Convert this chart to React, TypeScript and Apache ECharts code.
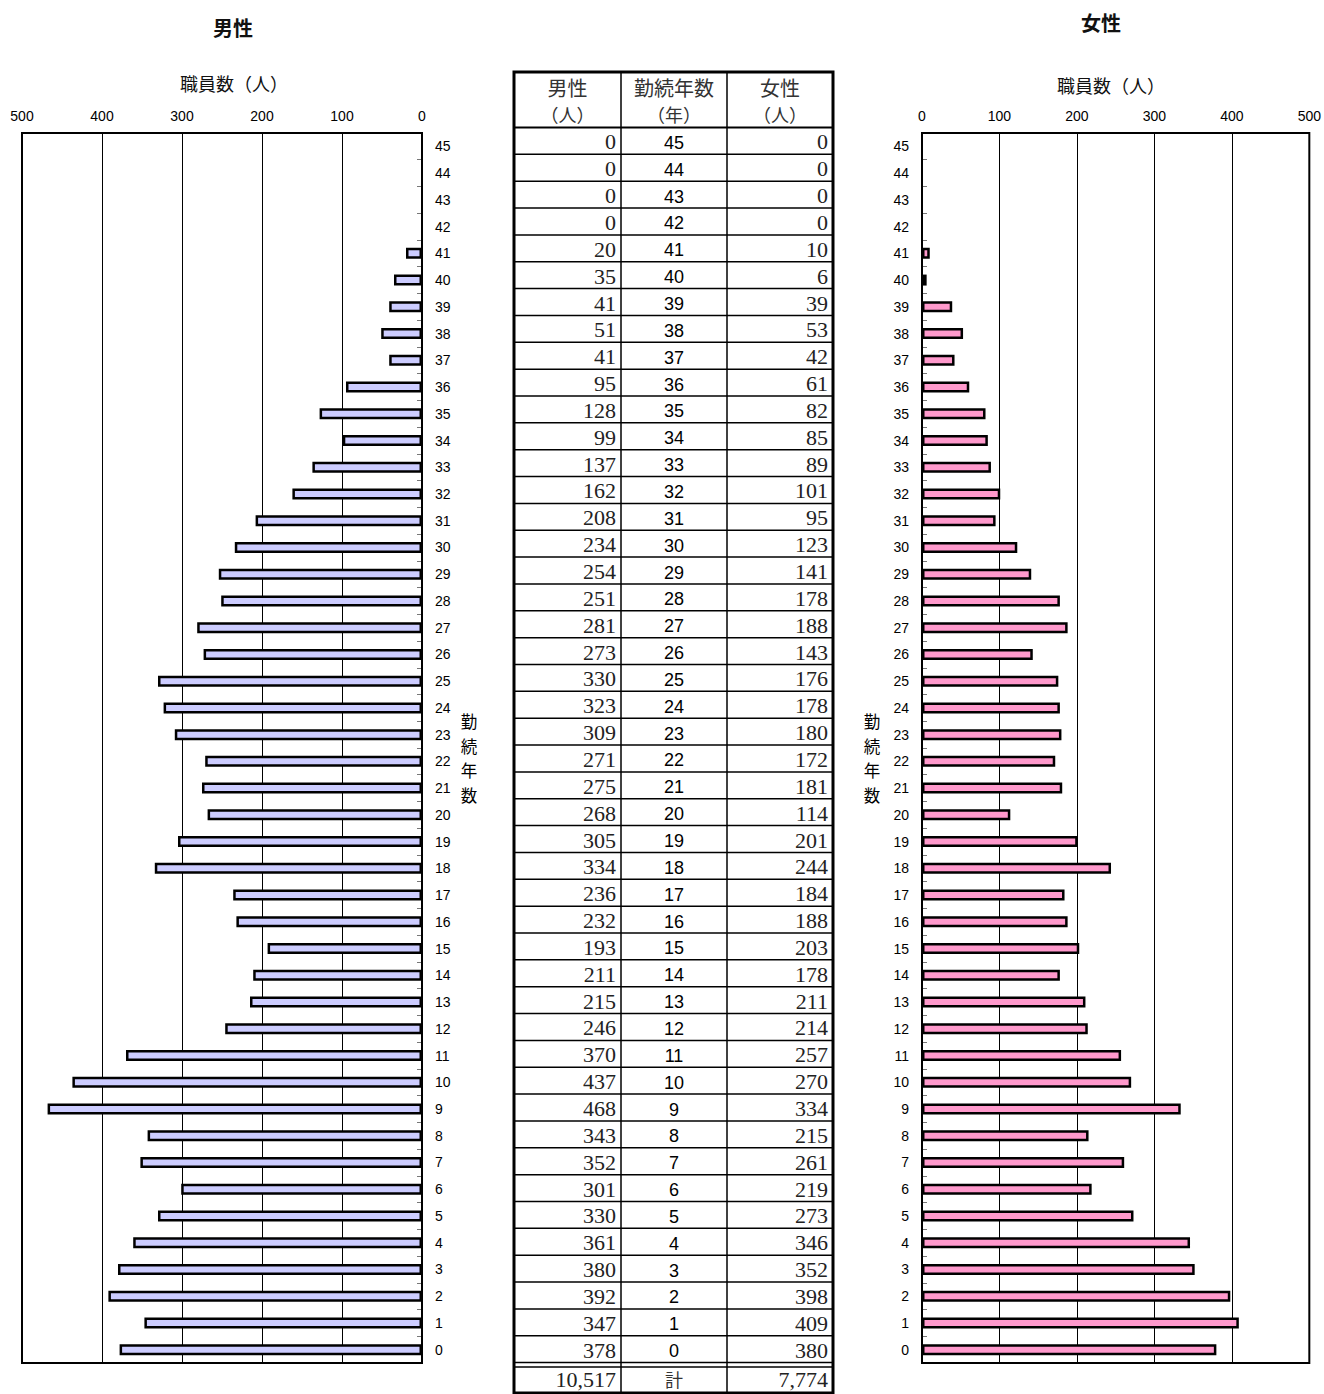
import React, { useEffect, useRef } from "react";
import * as echarts from "echarts";

// years of service, from 0 (bottom) to 45 (top)
const years: string[] = Array.from({ length: 46 }, (_, i) => String(i));

// male staff counts, index = years of service (0..45)
const maleCounts: number[] = [
  378, 347, 392, 380, 361, 330, 301, 352, 343, 468,
  437, 370, 246, 215, 211, 193, 232, 236, 334, 305,
  268, 275, 271, 309, 323, 330, 273, 281, 251, 254,
  234, 208, 162, 137, 99, 128, 95, 41, 51, 41,
  35, 20, 0, 0, 0, 0,
];

// female staff counts, index = years of service (0..45)
const femaleCounts: number[] = [
  380, 409, 398, 352, 346, 273, 219, 261, 215, 334,
  270, 257, 214, 211, 178, 203, 188, 184, 244, 201,
  114, 181, 172, 180, 178, 176, 143, 188, 178, 141,
  123, 95, 101, 89, 85, 82, 61, 42, 53, 39,
  6, 10, 0, 0, 0, 0,
];

const valueTicks = { min: 0, max: 500, interval: 100 };

const yearAxisName = ["勤", "続", "年", "数"];

const JP = '"Noto Sans CJK JP", sans-serif';
const SANS = '"Liberation Sans", Arial, sans-serif';
const SERIF = '"Liberation Serif", "DejaVu Serif", serif';

function fmt(n: number): string {
  return n.toString().replace(/\B(?=(\d{3})+(?!\d))/g, ",");
}

function buildTable(): any[] {
  const els: any[] = [];
  const L = 514, R = 833, T = 72, B = 1393;
  const c1 = 621, c2 = 727;
  const headBottom = 127.5;
  const rowH = 26.85;
  const n = years.length;
  const dataBottom = headBottom + n * rowH;
  els.push({ type: "rect", shape: { x: L, y: T, width: R - L, height: B - T }, style: { fill: "#fff", stroke: "#000", lineWidth: 3 }, z: 10 });
  [c1, c2].forEach((x) =>
    els.push({ type: "line", shape: { x1: x, y1: T, x2: x, y2: B }, style: { stroke: "#000", lineWidth: 1.5 }, z: 11 })
  );
  els.push({ type: "line", shape: { x1: L, y1: headBottom, x2: R, y2: headBottom }, style: { stroke: "#000", lineWidth: 2 }, z: 11 });
  for (let i = 1; i < n; i++) {
    const y = headBottom + i * rowH;
    els.push({ type: "line", shape: { x1: L, y1: y, x2: R, y2: y }, style: { stroke: "#000", lineWidth: 1.5 }, z: 11 });
  }
  els.push({ type: "line", shape: { x1: L, y1: dataBottom, x2: R, y2: dataBottom }, style: { stroke: "#000", lineWidth: 1.5 }, z: 11 });
  els.push({ type: "line", shape: { x1: L, y1: dataBottom + 4.5, x2: R, y2: dataBottom + 4.5 }, style: { stroke: "#000", lineWidth: 1.5 }, z: 11 });

  const heads = [
    { x: (L + c1) / 2, a: "男性", b: "（人）" },
    { x: (c1 + c2) / 2, a: "勤続年数", b: "（年）" },
    { x: (c2 + R) / 2, a: "女性", b: "（人）" },
  ];
  heads.forEach((h) => {
    els.push({ type: "text", x: h.x, y: 87, style: { text: h.a, font: `20px ${JP}`, fill: "#333", align: "center", verticalAlign: "middle" }, z: 12 });
    els.push({ type: "text", x: h.x, y: 114, style: { text: h.b, font: `18px ${JP}`, fill: "#333", align: "center", verticalAlign: "middle" }, z: 12 });
  });

  for (let i = 0; i < n; i++) {
    const yi = n - 1 - i;
    const cy = headBottom + (i + 0.5) * rowH + 1;
    els.push({ type: "text", x: c1 - 5, y: cy, style: { text: String(maleCounts[yi]), font: `22px ${SERIF}`, fill: "#222", align: "right", verticalAlign: "middle" }, z: 12 });
    els.push({ type: "text", x: (c1 + c2) / 2, y: cy + 1, style: { text: years[yi], font: `18px ${SANS}`, fill: "#000", align: "center", verticalAlign: "middle" }, z: 12 });
    els.push({ type: "text", x: R - 5, y: cy, style: { text: String(femaleCounts[yi]), font: `22px ${SERIF}`, fill: "#222", align: "right", verticalAlign: "middle" }, z: 12 });
  }
  const totalY = 1379;
  const maleTotal = maleCounts.reduce((s, v) => s + v, 0);
  const femaleTotal = femaleCounts.reduce((s, v) => s + v, 0);
  els.push({ type: "text", x: c1 - 5, y: totalY, style: { text: fmt(maleTotal), font: `22px ${SERIF}`, fill: "#222", align: "right", verticalAlign: "middle" }, z: 12 });
  els.push({ type: "text", x: (c1 + c2) / 2, y: totalY, style: { text: "計", font: `18px ${JP}`, fill: "#333", align: "center", verticalAlign: "middle" }, z: 12 });
  els.push({ type: "text", x: R - 5, y: totalY, style: { text: fmt(femaleTotal), font: `22px ${SERIF}`, fill: "#222", align: "right", verticalAlign: "middle" }, z: 12 });
  return els;
}

function verticalName(x: number): any[] {
  return yearAxisName.map((ch, i) => ({
    type: "text",
    x,
    y: 721 + i * 24.5,
    style: { text: ch, font: `16.5px ${JP}`, fill: "#000", align: "center", verticalAlign: "middle" },
  }));
}

export default function App() {
  const ref = useRef<HTMLDivElement>(null);
  useEffect(() => {
    if (!ref.current) return;
    const chart = echarts.init(ref.current, null, { renderer: "svg" });
    const valueAxisCommon = {
      type: "value" as const,
      ...valueTicks,
      position: "top" as const,
      axisLine: { show: false },
      axisTick: { show: false },
      splitLine: { show: true, lineStyle: { color: "#000", width: 1 } },
      axisLabel: { color: "#000", fontSize: 14, fontFamily: SANS, margin: 10 },
    };
    const catAxisCommon = {
      type: "category" as const,
      data: years,
      axisLine: { show: false },
      axisTick: { show: true, inside: true, length: 5, lineStyle: { color: "#777", width: 1 } },
      axisLabel: { color: "#000", fontSize: 14, fontFamily: SANS, margin: 13, interval: 0 },
      splitLine: { show: false },
    };
    const option: any = {
      animation: false,
      backgroundColor: "#fff",
      grid: [
        { left: 22, right: 1324 - 422, top: 133, bottom: 1394 - 1363, show: true, borderColor: "#000", borderWidth: 2, backgroundColor: "transparent", z: 3 },
        { left: 922, right: 1324 - 1310, top: 133, bottom: 1394 - 1363, show: true, borderColor: "#000", borderWidth: 2, backgroundColor: "transparent", z: 3 },
      ],
      xAxis: [
        { ...valueAxisCommon, gridIndex: 0, inverse: true },
        { ...valueAxisCommon, gridIndex: 1 },
      ],
      yAxis: [
        { ...catAxisCommon, gridIndex: 0, position: "right" },
        { ...catAxisCommon, gridIndex: 1, position: "left" },
      ],
      series: [
        {
          type: "bar",
          xAxisIndex: 0,
          yAxisIndex: 0,
          data: maleCounts.map((v) => (v === 0 ? null : v)),
          barWidth: 11,
          itemStyle: { color: "#CCCCFF", borderColor: "#000", borderWidth: 2.5 },
        },
        {
          type: "bar",
          xAxisIndex: 1,
          yAxisIndex: 1,
          data: femaleCounts.map((v) => (v === 0 ? null : v)),
          barWidth: 11,
          itemStyle: { color: "#FF99CC", borderColor: "#000", borderWidth: 2.5 },
        },
      ],
      graphic: [
        { type: "text", x: 233, y: 27, style: { text: "男性", font: `bold 20px ${JP}`, fill: "#111", align: "center", verticalAlign: "middle" } },
        { type: "text", x: 1101, y: 22, style: { text: "女性", font: `bold 20px ${JP}`, fill: "#111", align: "center", verticalAlign: "middle" } },
        { type: "text", x: 234, y: 83, style: { text: "職員数（人）", font: `18px ${JP}`, fill: "#111", align: "center", verticalAlign: "middle" } },
        { type: "text", x: 1111, y: 85, style: { text: "職員数（人）", font: `18px ${JP}`, fill: "#111", align: "center", verticalAlign: "middle" } },
        ...verticalName(469),
        ...verticalName(872),
        ...buildTable(),
      ],
    };
    chart.setOption(option);
    return () => chart.dispose();
  }, []);
  return (
    <div
      ref={ref}
      style={{ position: "absolute", left: 0, top: 0, width: 1324, height: 1394 }}
    />
  );
}
